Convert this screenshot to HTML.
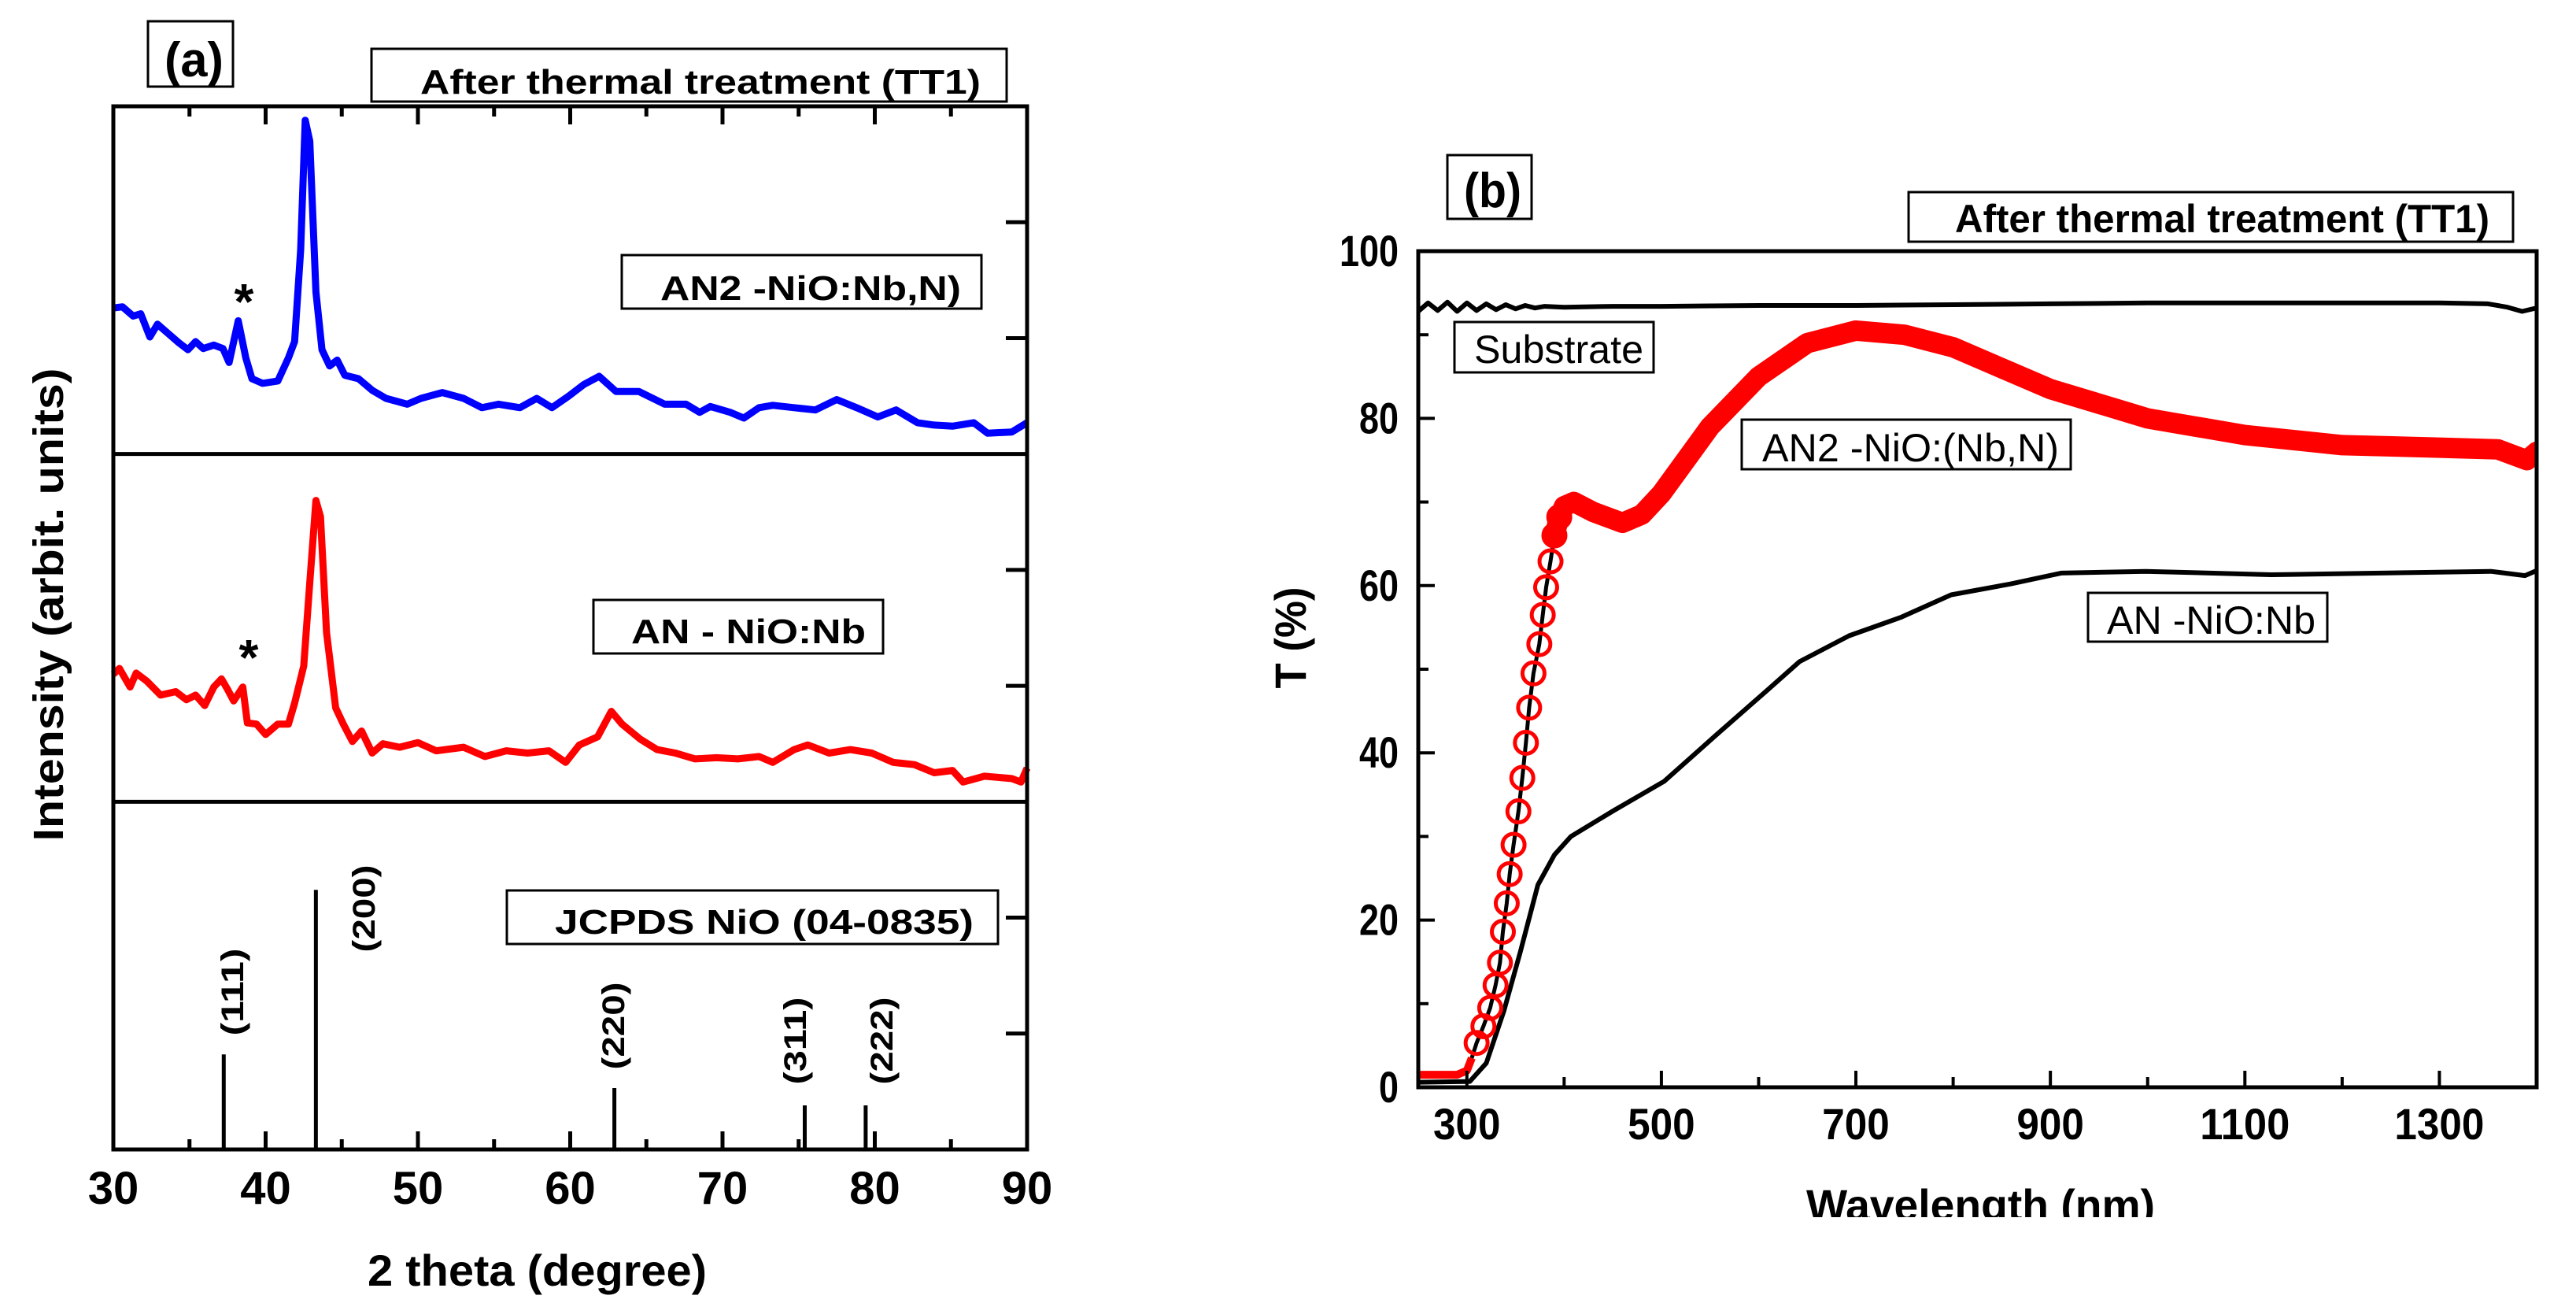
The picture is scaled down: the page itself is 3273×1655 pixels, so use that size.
<!DOCTYPE html>
<html><head><meta charset="utf-8"><style>
html,body{margin:0;padding:0;background:#fff}
svg{display:block}
text{font-family:"Liberation Sans",sans-serif;font-weight:bold;fill:#000}
</style></head><body>
<svg id="fig" width="3273" height="1655" viewBox="0 0 3273 1655" xmlns="http://www.w3.org/2000/svg">
<defs><clipPath id="clipB"><rect x="1802" y="319" width="1421" height="1062"/></clipPath>
<clipPath id="clipTitle"><rect x="2200" y="1480" width="700" height="66"/></clipPath></defs>
<g id="pa"></g>
<g id="pb"></g>
</svg>
<script>
// ---------- Panel (a) data ----------
const xrdTicks=[30,40,50,60,70,80,90];
const an2Deg=[30,30.6,31.3,31.8,32.4,32.9,33.6,34.3,34.9,35.4,35.9,36.6,37.2,37.6,38.2,38.7,39.1,39.8,40.8,41.5,41.9,42.3,42.6,42.9,43.3,43.7,44.2,44.7,45.2,46.1,47,47.9,49.3,50.2,51.6,53,54.2,55.3,56.7,57.8,58.8,59.9,60.9,61.9,63,64.5,66.2,67.6,68.5,69.2,70.5,71.4,72.4,73.3,74.7,76.1,77.5,78.8,80.2,81.4,82.8,83.9,85.1,86.5,87.4,89,90];
const an2Int=[1.26,1.27,1.19,1.21,1.01,1.12,1.04,0.96,0.9,0.97,0.91,0.94,0.91,0.79,1.15,0.83,0.65,0.61,0.63,0.83,0.97,1.76,2.88,2.70,1.40,0.9,0.76,0.81,0.68,0.65,0.55,0.48,0.43,0.48,0.53,0.48,0.40,0.43,0.40,0.48,0.40,0.50,0.60,0.67,0.54,0.54,0.43,0.43,0.36,0.41,0.36,0.31,0.40,0.42,0.40,0.38,0.47,0.40,0.32,0.38,0.27,0.25,0.24,0.27,0.18,0.19,0.27];
const anDeg=[30,30.4,31.1,31.5,32.2,33.1,34.1,34.8,35.4,36,36.6,37.1,37.5,37.9,38.5,38.8,39.4,40,40.8,41.5,41.9,42.5,42.9,43.3,43.6,44,44.6,45.1,45.7,46.3,47,47.7,48.8,50,51.2,53,54.4,55.8,57.2,58.6,59.7,60.6,61.8,62.7,63.4,64.6,65.7,66.9,68.2,69.6,71,72.4,73.3,74.7,75.6,77,78.4,79.8,81.2,82.6,83.9,85.1,85.8,87.2,89,89.6,90];
const anInt=[1.10,1.15,0.99,1.11,1.04,0.92,0.95,0.88,0.92,0.83,0.99,1.06,0.97,0.87,0.99,0.68,0.67,0.58,0.67,0.67,0.85,1.17,1.89,2.60,2.46,1.46,0.81,0.67,0.52,0.61,0.42,0.50,0.47,0.51,0.44,0.47,0.39,0.44,0.42,0.44,0.34,0.49,0.56,0.78,0.67,0.54,0.45,0.42,0.37,0.38,0.37,0.39,0.34,0.45,0.49,0.42,0.45,0.42,0.34,0.32,0.25,0.27,0.17,0.22,0.20,0.17,0.29];
const stickDeg=[37.25,43.3,62.9,75.4,79.4];
const stickInt=[0.82,2.24,0.53,0.38,0.38];
const stickLabels=["(111)","(200)","(220)","(311)","(222)"];
// ---------- Panel (b) data ----------
const wlTicks=[300,500,700,900,1100,1300];
const tTicks=[0,20,40,60,80,100];
const subWl=[250,260,270,280,290,300,310,320,330,340,350,360,370,380,400,450,500,600,700,800,900,1000,1100,1200,1300,1350,1370,1385,1400];
const subT=[92.8,93.8,92.9,93.9,92.8,93.8,92.9,93.7,93.0,93.6,93.1,93.5,93.2,93.4,93.3,93.4,93.4,93.5,93.5,93.6,93.7,93.8,93.8,93.8,93.8,93.7,93.3,92.8,93.2];
const an2Wl=[250,290,300,305,310,317,324,329.5,334,337,341,344,348,353,357,360.7,364,368.5,374.5,378,381.5,386,390,395,400,410,430,460,480,500,550,600,650,700,750,800,850,900,1000,1100,1200,1300,1360,1390,1400];
const an2T=[1.5,1.5,2,3.5,5.3,7.3,9.5,12.2,14.9,18.6,22,25.5,29,33,37,41.2,45.4,49.5,53,56.5,59.8,62.9,66,68.2,69.5,70,68.8,67.5,68.5,71,79,85,89,90.5,90,88.5,86,83.5,80,78,76.8,76.5,76.3,75,76];
const anWl=[250,303,320,338,355,373,390,407,451,503,555,607,642,693,746,798,859,911,998,1127,1353,1388,1400];
const anT=[0.6,0.7,2.9,9.1,16.2,24.2,27.8,30,33.1,36.6,42,47.3,50.9,54,56.2,58.9,60.2,61.5,61.7,61.3,61.7,61.2,61.8];

const NS="http://www.w3.org/2000/svg";
function mk(parent,tag,attrs,txt){const e=document.createElementNS(NS,tag);for(const k in attrs)e.setAttribute(k,attrs[k]);if(txt!==undefined)e.textContent=txt;parent.appendChild(e);return e;}

// ---------- Panel (a) ----------
const pa=document.getElementById('pa');
const aL=144,aR=1305,aT=135,aB=1460,subH=(aB-aT)/3,unit=subH/3;
const xa=d=>aL+(d-30)/60*(aR-aL);
const subBottom=[aT+subH,aT+2*subH,aB];
const ya=(u,p)=>subBottom[p]-u*unit;
function pathFrom(xs,ys,fx,fy){return xs.map((v,i)=>(i?'L':'M')+fx(v).toFixed(1)+' '+fy(ys[i]).toFixed(1)).join(' ');}
let e;
e=mk(pa,'path',{d:pathFrom(an2Deg,an2Int,xa,u=>ya(u,0)),fill:'none',stroke:'#0000ff','stroke-width':9,'stroke-linejoin':'round'});


e=mk(pa,'path',{d:pathFrom(anDeg,anInt,xa,u=>ya(u,1)),fill:'none',stroke:'#ff0000','stroke-width':9,'stroke-linejoin':'round'});


stickDeg.forEach((d,i)=>{
  e=mk(pa,'line',{x1:xa(d),x2:xa(d),y1:aB,y2:ya(stickInt[i],2),stroke:'#000','stroke-width':5});
  
  
});
const stickLabelPos=[[295,1260],[462,1154],[779,1303],[1010,1322],[1120,1322]];
stickLabels.forEach((s,i)=>{
  const [cx,cy]=stickLabelPos[i];
  e=mk(pa,'text',{x:0,y:0,'font-size':40,'text-anchor':'middle',textLength:111,lengthAdjust:'spacingAndGlyphs',transform:`translate(${cx+14},${cy}) rotate(-90)`},s);
  
  
});
e=mk(pa,'rect',{x:aL,y:aT,width:aR-aL,height:aB-aT,fill:'none',stroke:'#000','stroke-width':5});


[subBottom[0],subBottom[1]].forEach(y=>{
  e=mk(pa,'line',{x1:aL,x2:aR,y1:y,y2:y,stroke:'#000','stroke-width':5});
  
  
});
for(let d=30;d<=90;d+=5){
  const major=d%10===0,len=major?23:13,x=xa(d);
  mk(pa,'line',{x1:x,x2:x,y1:aB,y2:aB-len,stroke:'#000','stroke-width':5});
  mk(pa,'line',{x1:x,x2:x,y1:aT,y2:aT+len,stroke:'#000','stroke-width':5});
}
xrdTicks.forEach(d=>{
  e=mk(pa,'text',{x:xa(d),y:1529,'font-size':58,'text-anchor':'middle'},String(d));
  
  
});
for(let p=0;p<3;p++)for(let k=1;k<3;k++){const y=ya(k,p);mk(pa,'line',{x1:aR,x2:aR-27,y1:y,y2:y,stroke:'#000','stroke-width':5});}
function boxText(parent,name,bx,by,bw,bh,tx,ty,fs,tl,txt,weight){
  const g=mk(parent,'g',{});
  
  
  mk(g,'rect',{x:bx,y:by,width:bw,height:bh,fill:'#fff',stroke:'#000','stroke-width':3});
  const t=mk(g,'text',{x:tx,y:ty,'font-size':fs,textLength:tl,lengthAdjust:'spacingAndGlyphs'},txt);
  if(weight)t.style.fontWeight=weight;
  return g;
}
boxText(pa,'panel-a-label',188,27,108,83,209,97,62,75,'(a)');
boxText(pa,'panel-a-title',472,62,807,67,534,119,44,712,'After thermal treatment (TT1)');
boxText(pa,'an2-label',790,324,457,68,839,381,44,382,'AN2 -NiO:Nb,N)');
boxText(pa,'an-label',754,762,368,68,802,817,44,298,'AN - NiO:Nb');
boxText(pa,'jcpds-label',644,1131,624,68,705,1186,44,532,'JCPDS  NiO (04-0835)');
e=mk(pa,'text',{x:310,y:405,'font-size':64,'text-anchor':'middle'},'*');


e=mk(pa,'text',{x:316,y:857,'font-size':64,'text-anchor':'middle'},'*');


e=mk(pa,'text',{x:467,y:1633,'font-size':56,textLength:431,lengthAdjust:'spacingAndGlyphs'},'2 theta  (degree)');


e=mk(pa,'text',{x:0,y:0,'font-size':54,'text-anchor':'middle',textLength:601,lengthAdjust:'spacingAndGlyphs',transform:'translate(80,768) rotate(-90)'},'Intensity  (arbit. units)');



// ---------- Panel (b) ----------
const pb=document.getElementById('pb');
const bL=1802,bR=3223,bT=319,bB=1381;
const xb=w=>bL+(w-250)/1150*(bR-bL);
const yb=t=>bB-t/100*(bB-bT);
const cg=mk(pb,'g',{'clip-path':'url(#clipB)'});
e=mk(cg,'path',{d:pathFrom(subWl,subT,xb,yb),fill:'none',stroke:'#000','stroke-width':6,'stroke-linejoin':'round'});


e=mk(cg,'path',{d:pathFrom(anWl,anT,xb,yb),fill:'none',stroke:'#000','stroke-width':6,'stroke-linejoin':'round'});


const cIdx=an2Wl.map((w,i)=>i).filter(i=>an2Wl[i]>=308&&an2Wl[i]<=396);
e=mk(cg,'path',{d:pathFrom(an2Wl.slice(2,25),an2T.slice(2,25),xb,yb),fill:'none',stroke:'#000','stroke-width':5});


const thickStart=an2Wl.findIndex(w=>w>=390);
e=mk(cg,'path',{d:pathFrom(an2Wl.slice(thickStart),an2T.slice(thickStart),xb,yb),fill:'none',stroke:'#ff0000','stroke-width':26,'stroke-linejoin':'round','stroke-linecap':'round'});


e=mk(cg,'path',{d:pathFrom(an2Wl.slice(0,4),an2T.slice(0,4),xb,yb),fill:'none',stroke:'#ff0000','stroke-width':10,'stroke-linejoin':'round'});


cIdx.forEach(i=>{
  e=mk(cg,'circle',{cx:xb(an2Wl[i]),cy:yb(an2T[i]),r:14,fill:'none',stroke:'#ff0000','stroke-width':5});
  
  
});
e=mk(pb,'path',{d:`M${bL} ${bT} L${bL} ${bB} L${bR} ${bB} L${bR} ${bT} Z`,fill:'none',stroke:'#000','stroke-width':5});


for(let w=300;w<=1300;w+=100){const x=xb(w),len=(w%200===100)?21:13;mk(pb,'line',{x1:x,x2:x,y1:bB,y2:bB-len,stroke:'#000','stroke-width':4});}
for(let t=10;t<100;t+=10){const y=yb(t),len=(t%20===0)?21:13;mk(pb,'line',{x1:bL,x2:bL+len,y1:y,y2:y,stroke:'#000','stroke-width':4});}
wlTicks.forEach(w=>{
  const s=String(w);
  e=mk(pb,'text',{x:xb(w),y:1447,'font-size':56,'text-anchor':'middle',textLength:s.length*28.5,lengthAdjust:'spacingAndGlyphs'},s);
  
  
});
tTicks.forEach(t=>{
  const s=String(t);
  e=mk(pb,'text',{x:1777,y:yb(t)+19,'font-size':56,'text-anchor':'end',textLength:s.length*25,lengthAdjust:'spacingAndGlyphs'},s);
  
  
});
boxText(pb,'panel-b-label',1839,197,107,81,1860,263,62,73,'(b)');
boxText(pb,'panel-b-title',2425,244,768,63,2484,295,50,679,'After thermal treatment (TT1)');
boxText(pb,'substrate-label',1848,409,253,64,1873,461,50,215,'Substrate','normal');
boxText(pb,'an2-label-b',2213,533,418,63,2239,586,50,377,'AN2 -NiO:(Nb,N)','normal');
boxText(pb,'an-label-b',2653,753,304,62,2677,805,50,265,'AN -NiO:Nb','normal');
e=mk(pb,'text',{x:2295,y:1550,'font-size':56,textLength:443,lengthAdjust:'spacingAndGlyphs','clip-path':'url(#clipTitle)'},'Wavelength  (nm)');


e=mk(pb,'text',{x:0,y:0,'font-size':56,'text-anchor':'middle',textLength:129,lengthAdjust:'spacingAndGlyphs',transform:'translate(1659,810) rotate(-90)'},'T (%)');


</script>
</body></html>
